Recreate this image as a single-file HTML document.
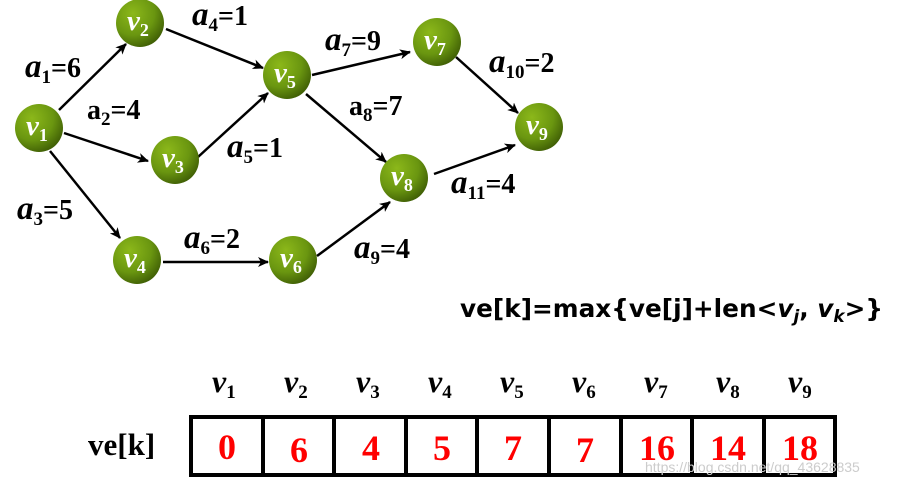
<!DOCTYPE html>
<html><head><meta charset="utf-8"><style>
html,body{margin:0;padding:0;background:#fff;}
svg{display:block;}
.l{font-family:"Liberation Serif",serif;font-weight:bold;font-size:28px;fill:#000;}
.n{font-family:"Liberation Serif",serif;font-weight:bold;font-style:italic;font-size:29px;fill:#fff;}
.s{font-style:normal;font-size:18px;}
</style></head><body>
<svg width="899" height="486" viewBox="0 0 899 486" xmlns="http://www.w3.org/2000/svg">
<defs>
<radialGradient id="g" cx="0.35" cy="0.3" r="0.75">
<stop offset="0" stop-color="#8cb81a"/><stop offset="0.6" stop-color="#6a9610"/><stop offset="1" stop-color="#3f5e05"/>
</radialGradient>
<marker id="a" markerWidth="12" markerHeight="12" refX="10" refY="5" orient="auto" markerUnits="userSpaceOnUse">
<path d="M0,0 L11,5 L0,10 L3,5 Z" fill="#000"/>
</marker>
</defs>
<g stroke="#000" stroke-width="2.5" marker-end="url(#a)">
<line x1="59" y1="110" x2="126" y2="44"/>
<line x1="64" y1="133" x2="148" y2="161"/>
<line x1="50" y1="151" x2="120" y2="238"/>
<line x1="166" y1="29" x2="263" y2="68"/>
<line x1="198" y1="157" x2="268" y2="93"/>
<line x1="163" y1="262" x2="268" y2="262"/>
<line x1="312" y1="75" x2="410" y2="52"/>
<line x1="306" y1="94" x2="386" y2="162"/>
<line x1="317" y1="256" x2="390" y2="202"/>
<line x1="456" y1="57" x2="518" y2="113"/>
<line x1="434" y1="174" x2="515" y2="145"/>
</g>
<g fill="url(#g)">
<circle cx="39" cy="128" r="24"/><circle cx="140" cy="23" r="24"/><circle cx="175" cy="160" r="24"/>
<circle cx="137" cy="260" r="24"/><circle cx="287" cy="75" r="24"/><circle cx="293" cy="260" r="24"/>
<circle cx="437" cy="42" r="24"/><circle cx="404" cy="178" r="24"/><circle cx="539" cy="127" r="24"/>
</g>
<g class="n">
<text x="26" y="135">v<tspan class="s" dy="6">1</tspan></text>
<text x="127" y="30">v<tspan class="s" dy="6">2</tspan></text>
<text x="162" y="167">v<tspan class="s" dy="6">3</tspan></text>
<text x="124" y="267">v<tspan class="s" dy="6">4</tspan></text>
<text x="274" y="82">v<tspan class="s" dy="6">5</tspan></text>
<text x="280" y="267">v<tspan class="s" dy="6">6</tspan></text>
<text x="424" y="49">v<tspan class="s" dy="6">7</tspan></text>
<text x="391" y="185">v<tspan class="s" dy="6">8</tspan></text>
<text x="526" y="134">v<tspan class="s" dy="6">9</tspan></text>
</g>
<g class="l">
<text x="25" y="77"><tspan font-style="italic" font-size="33">a</tspan><tspan font-size="19" dy="6">1</tspan><tspan dy="-6">=6</tspan></text>
<text x="87" y="119"><tspan>a</tspan><tspan font-size="19" dy="6">2</tspan><tspan dy="-6">=4</tspan></text>
<text x="17" y="219"><tspan font-style="italic" font-size="33">a</tspan><tspan font-size="19" dy="6">3</tspan><tspan dy="-6">=5</tspan></text>
<text x="192" y="25"><tspan font-style="italic" font-size="33">a</tspan><tspan font-size="19" dy="6">4</tspan><tspan dy="-6">=1</tspan></text>
<text x="227" y="157"><tspan font-style="italic" font-size="33">a</tspan><tspan font-size="19" dy="6">5</tspan><tspan dy="-6">=1</tspan></text>
<text x="184" y="248"><tspan font-style="italic" font-size="33">a</tspan><tspan font-size="19" dy="6">6</tspan><tspan dy="-6">=2</tspan></text>
<text x="325" y="50"><tspan font-style="italic" font-size="33">a</tspan><tspan font-size="19" dy="6">7</tspan><tspan dy="-6">=9</tspan></text>
<text x="349" y="115"><tspan>a</tspan><tspan font-size="19" dy="6">8</tspan><tspan dy="-6">=7</tspan></text>
<text x="354" y="258"><tspan font-style="italic" font-size="33">a</tspan><tspan font-size="19" dy="6">9</tspan><tspan dy="-6">=4</tspan></text>
<text x="489" y="72"><tspan font-style="italic" font-size="33">a</tspan><tspan font-size="19" dy="6">10</tspan><tspan dy="-6">=2</tspan></text>
<text x="451" y="193"><tspan font-style="italic" font-size="33">a</tspan><tspan font-size="19" dy="6">11</tspan><tspan dy="-6">=4</tspan></text>
</g>
<text x="460" y="317" font-family="'DejaVu Sans','Liberation Sans',sans-serif" font-weight="bold" font-size="25" fill="#000" textLength="423" lengthAdjust="spacingAndGlyphs">ve[k]=max{ve[j]+len&lt;<tspan font-style="italic">v</tspan><tspan font-style="italic" font-size="17" dy="5">j</tspan><tspan dy="-5">, </tspan><tspan font-style="italic">v</tspan><tspan font-style="italic" font-size="17" dy="5">k</tspan><tspan dy="-5">&gt;}</tspan></text>
<g font-family="'Liberation Serif',serif" font-weight="bold" font-style="italic" font-size="32" fill="#000">
<text x="212" y="392">v<tspan font-style="normal" font-size="19" dy="6">1</tspan></text>
<text x="284" y="392">v<tspan font-style="normal" font-size="19" dy="6">2</tspan></text>
<text x="356" y="392">v<tspan font-style="normal" font-size="19" dy="6">3</tspan></text>
<text x="428" y="392">v<tspan font-style="normal" font-size="19" dy="6">4</tspan></text>
<text x="500" y="392">v<tspan font-style="normal" font-size="19" dy="6">5</tspan></text>
<text x="572" y="392">v<tspan font-style="normal" font-size="19" dy="6">6</tspan></text>
<text x="644" y="392">v<tspan font-style="normal" font-size="19" dy="6">7</tspan></text>
<text x="716" y="392">v<tspan font-style="normal" font-size="19" dy="6">8</tspan></text>
<text x="788" y="392">v<tspan font-style="normal" font-size="19" dy="6">9</tspan></text>
</g>
<text x="88" y="455" font-family="'Liberation Serif',serif" font-weight="bold" font-size="31" fill="#000">ve[k]</text>
<g stroke="#000" stroke-width="4" fill="none">
<rect x="191" y="417" width="644" height="58"/>
<line x1="263" y1="417" x2="263" y2="475"/><line x1="334" y1="417" x2="334" y2="475"/>
<line x1="406" y1="417" x2="406" y2="475"/><line x1="477" y1="417" x2="477" y2="475"/>
<line x1="549" y1="417" x2="549" y2="475"/><line x1="621" y1="417" x2="621" y2="475"/>
<line x1="692" y1="417" x2="692" y2="475"/><line x1="764" y1="417" x2="764" y2="475"/>
</g>
<g font-family="'Liberation Serif',serif" font-weight="bold" font-size="36" fill="#f00" text-anchor="middle">
<text x="227" y="459">0</text><text x="299" y="462">6</text><text x="371" y="460">4</text>
<text x="442" y="460">5</text><text x="513" y="460">7</text><text x="585" y="462">7</text>
<text x="657" y="460">16</text><text x="728" y="460">14</text><text x="800" y="460">18</text>
</g>
<text x="645" y="472" font-family="'Liberation Sans',sans-serif" font-size="14" fill="#ccc">https://blog.csdn.net/qq_43628835</text>
</svg>
</body></html>
